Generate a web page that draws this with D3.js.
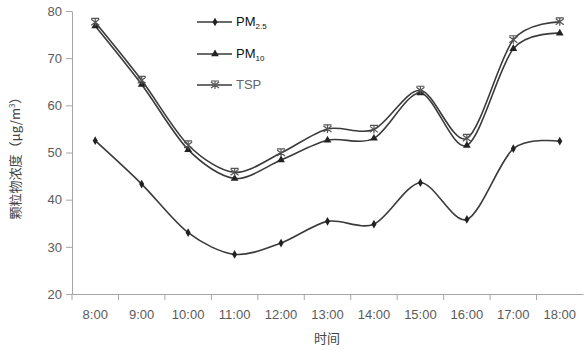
<!DOCTYPE html>
<meta charset="utf-8">
<style>
html, body { margin: 0; padding: 0; background: #fff; }
svg { display: block; }
.tick text { font-family: "Liberation Sans", Arial, sans-serif; font-size: 13px; fill: #5a5a5a; }
.domain, .tick line { stroke: #a6a6a6; }
.series { fill: none; stroke: #3a3a3a; stroke-width: 1.6px; }
.legend text { font-family: "Liberation Sans", Arial, sans-serif; font-size: 13px; fill: #111; }
.title { font-family: "Noto Sans CJK SC", sans-serif; font-size: 13px; fill: #444; }
</style>
<svg width="584" height="350"></svg>
<script src="https://d3js.org/d3.v7.min.js"></script>
<script>

var hours = ["8:00", "9:00", "10:00", "11:00", "12:00", "13:00", "14:00", "15:00", "16:00", "17:00", "18:00"];
var pm25 = [52.5, 43.3, 33.0, 28.4, 30.8, 35.4, 34.8, 43.6, 35.8, 50.8, 52.4];
var pm10 = [76.8, 64.4, 50.6, 44.5, 48.4, 52.6, 53.0, 62.6, 51.5, 72.0, 75.3];
var tsp = [77.6, 65.3, 51.6, 45.8, 49.9, 55.0, 54.9, 63.2, 53.0, 73.9, 77.7];
var yTicks = [20, 30, 40, 50, 60, 70, 80];

var svg = d3.select("svg");

var x = d3.scaleBand().domain(hours).range([72, 583]);
var y = d3.scaleLinear().domain([20, 80]).range([294, 11]);

// y axis
svg.append("g")
    .attr("transform", "translate(72,0)")
    .call(d3.axisLeft(y).tickValues(yTicks).tickSize(6).tickSizeOuter(0).tickPadding(4));

// x axis, ticks at band boundaries
var xAxis = svg.append("g")
    .attr("transform", "translate(0,294)")
    .call(d3.axisBottom(x).tickSize(0).tickSizeOuter(0).tickPadding(16));
xAxis.selectAll(".tick line").remove();
xAxis.selectAll(".edge")
    .data(hours)
    .enter().append("line")
    .attr("x1", function(d) { return x(d); })
    .attr("x2", function(d) { return x(d); })
    .attr("y1", 0)
    .attr("y2", 6)
    .attr("stroke", "#a6a6a6");

var cx = function(i) { return x(hours[i]) + x.bandwidth() / 2; };

var line = d3.line()
    .x(function(d, i) { return cx(i); })
    .y(function(d) { return y(d); })
    .curve(d3.curveCardinal.tension(0.1));

var series = [
  { name: "PM2.5", values: pm25, marker: "diamond" },
  { name: "PM10", values: pm10, marker: "triangle" },
  { name: "TSP", values: tsp, marker: "star" }
];

function drawMarker(g, type, px, py) {
  if (type === "diamond") {
    g.append("path")
        .attr("d", d3.symbol().type(d3.symbolDiamond).size(22)())
        .attr("transform", "translate(" + px + "," + py + ")")
        .attr("fill", "#222");
  } else if (type === "triangle") {
    g.append("path")
        .attr("d", d3.symbol().type(d3.symbolTriangle).size(26)())
        .attr("transform", "translate(" + px + "," + py + ")")
        .attr("fill", "#222");
  } else {
    g.append("path")
        .attr("d", "M-4,-3L4,3M-4,3L4,-3M0,-4L0,4M-4,-4L4,-4")
        .attr("transform", "translate(" + px + "," + py + ")")
        .attr("stroke", "#555")
        .attr("stroke-width", 1.2)
        .attr("fill", "none");
  }
}

series.forEach(function(s) {
  svg.append("path")
      .attr("class", "series")
      .attr("d", line(s.values));
  var mg = svg.append("g");
  s.values.forEach(function(v, i) { drawMarker(mg, s.marker, cx(i), y(v)); });
});

// legend
var legendY = [22, 54, 85];
var legend = svg.append("g").attr("class", "legend");
series.forEach(function(s, i) {
  legend.append("line")
      .attr("x1", 197).attr("x2", 232)
      .attr("y1", legendY[i]).attr("y2", legendY[i])
      .attr("stroke", "#3a3a3a").attr("stroke-width", 1.6);
  drawMarker(legend, s.marker, 215, legendY[i]);
});
var t1 = legend.append("text").attr("x", 236).attr("y", legendY[0] + 4).text("PM");
t1.append("tspan").attr("font-size", "8px").attr("dy", 3).text("2.5");
var t2 = legend.append("text").attr("x", 236).attr("y", legendY[1] + 4).text("PM");
t2.append("tspan").attr("font-size", "8px").attr("dy", 3).text("10");
legend.append("text").attr("x", 236).attr("y", legendY[2] + 4).style("fill", "#666").text("TSP");

// axis titles
svg.append("text")
    .attr("class", "title")
    .attr("transform", "translate(20,155) rotate(-90)")
    .attr("text-anchor", "middle")
    .html("颗粒物浓度（μg/m<tspan font-size='8px' dy='-5'>3</tspan><tspan dy='5'>）</tspan>");

svg.append("text")
    .attr("class", "title")
    .attr("x", 327)
    .attr("y", 343)
    .attr("text-anchor", "middle")
    .text("时间");

</script>
